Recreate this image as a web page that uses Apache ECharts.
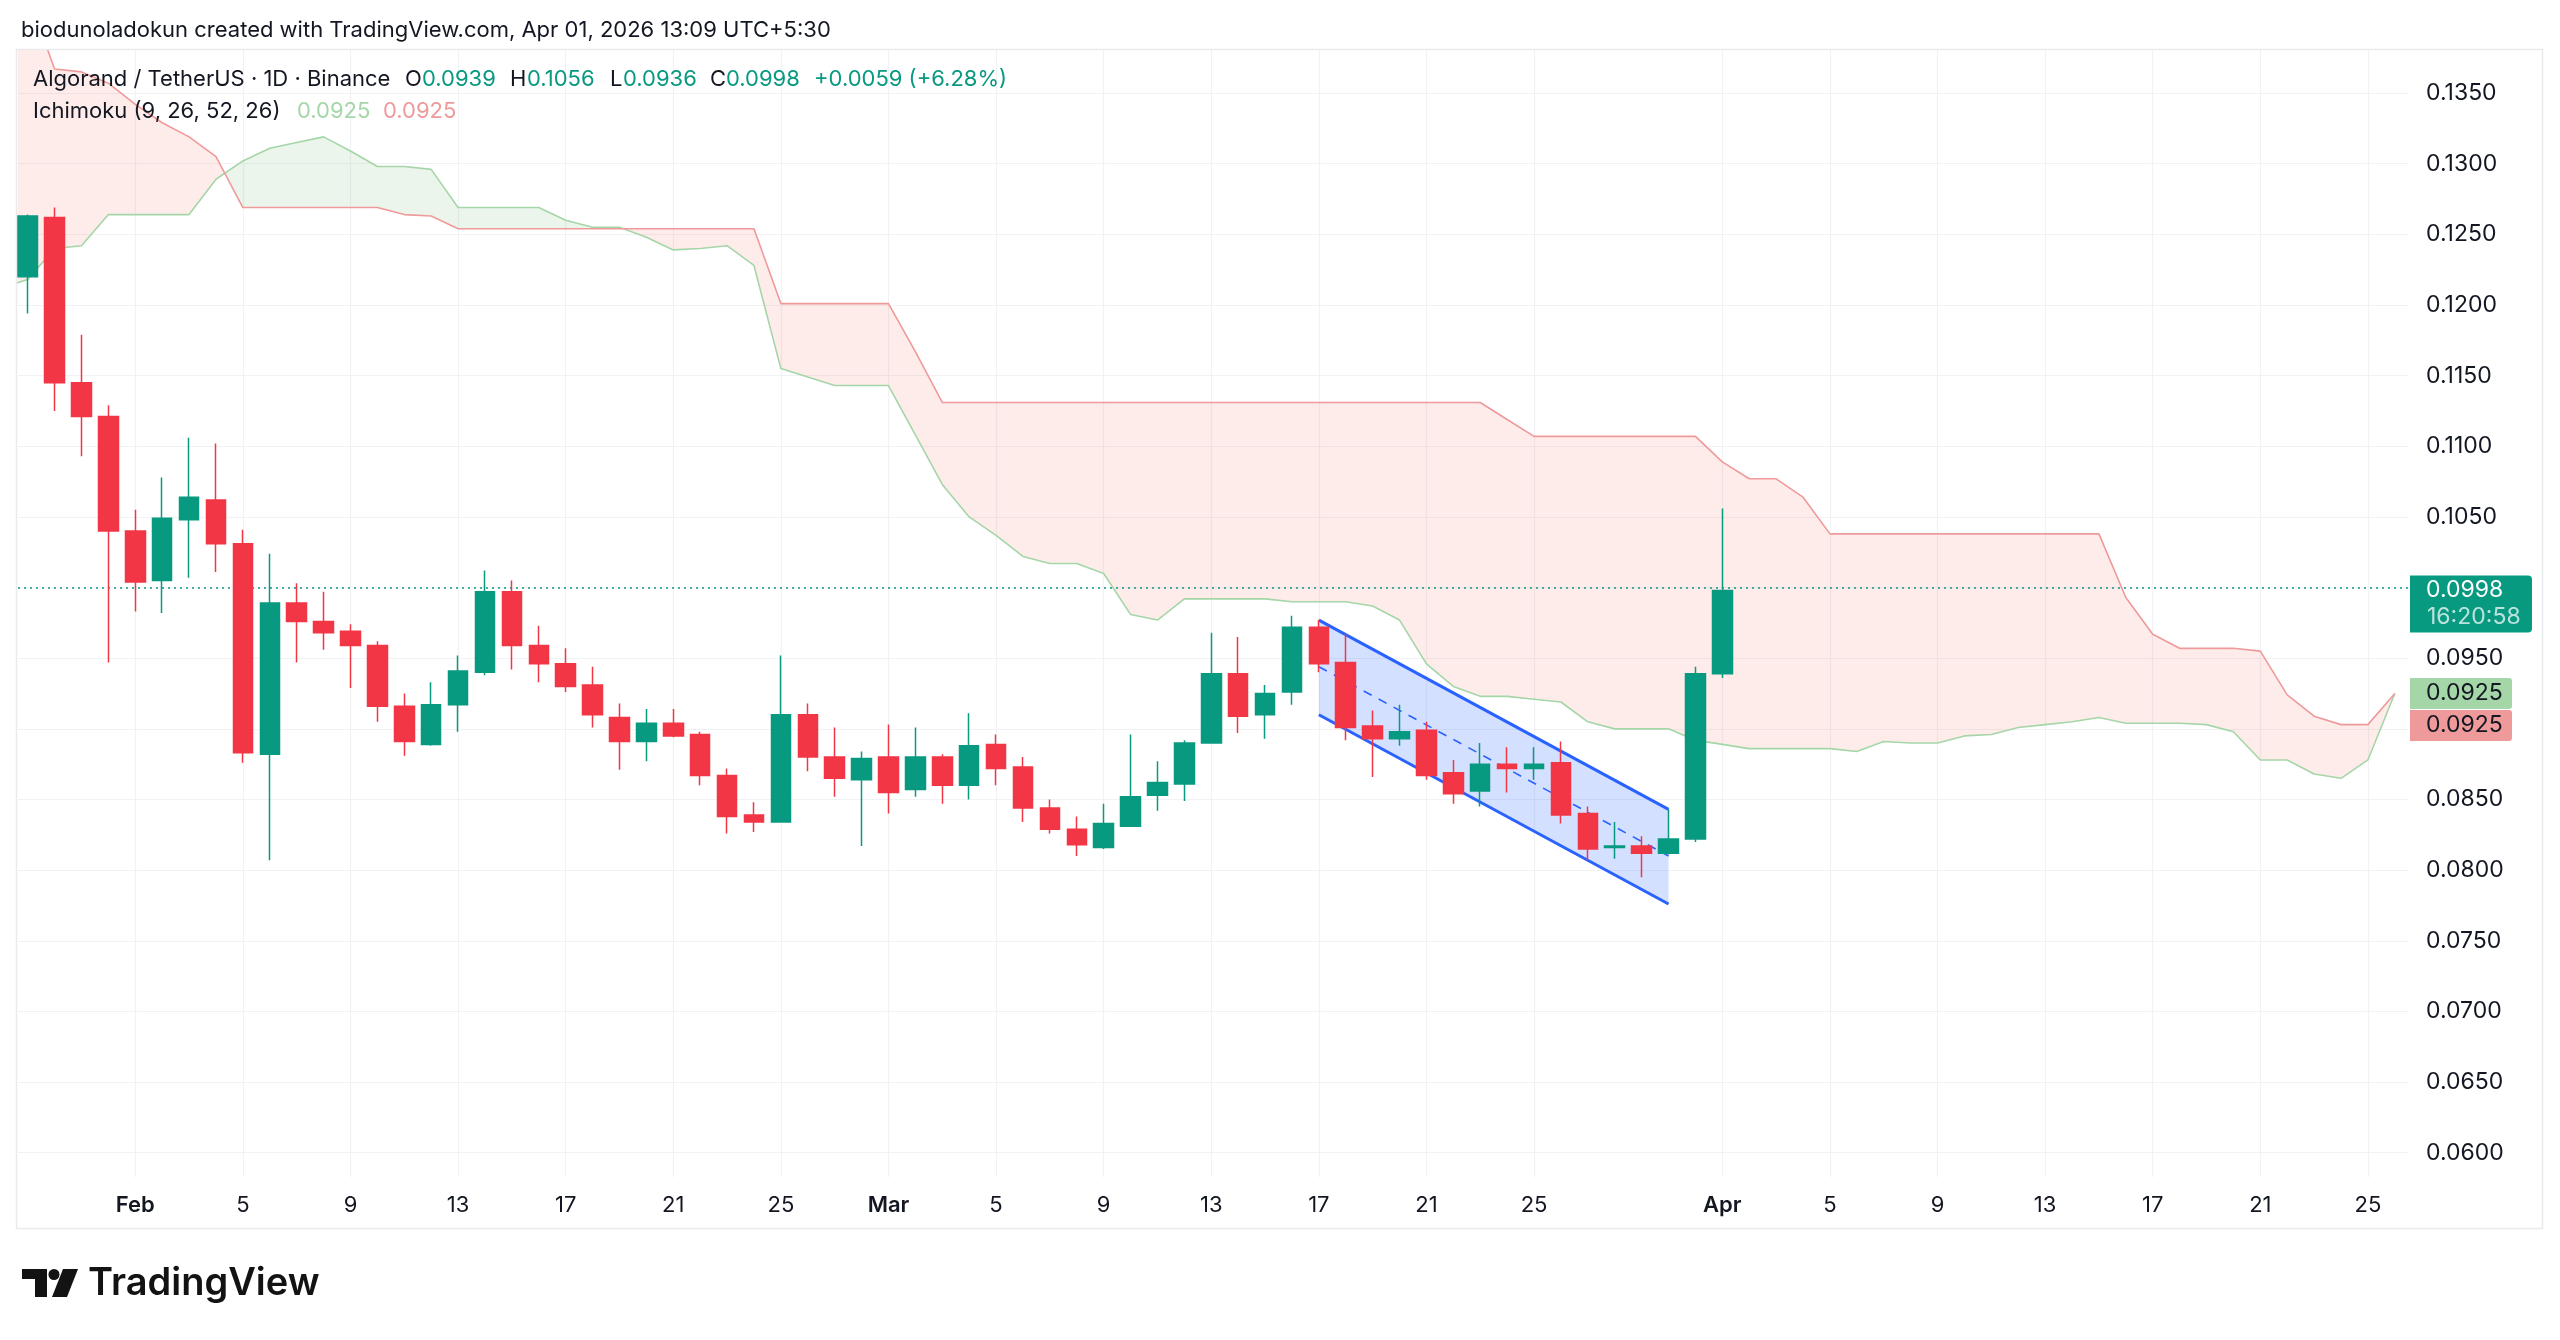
<!DOCTYPE html>
<html>
<head>
<meta charset="utf-8">
<title>ALGOUSDT 1D</title>
<script src="https://cdn.jsdelivr.net/npm/echarts@6/dist/echarts.min.js"></script>
<style>
  html, body { margin: 0; padding: 0; background: #fff; }
  #main { width: 2560px; height: 1340px; }
</style>
</head>
<body>
<div id="main"></div>
<script>
// daily candles, index 0 = Jan 28
const dates = [
  'Jan 28', 'Jan 29', 'Jan 30', 'Jan 31',
  'Feb 1', 'Feb 2', 'Feb 3', 'Feb 4', 'Feb 5', 'Feb 6', 'Feb 7', 'Feb 8', 'Feb 9', 'Feb 10',
  'Feb 11', 'Feb 12', 'Feb 13', 'Feb 14', 'Feb 15', 'Feb 16', 'Feb 17', 'Feb 18', 'Feb 19', 'Feb 20',
  'Feb 21', 'Feb 22', 'Feb 23', 'Feb 24', 'Feb 25', 'Feb 26', 'Feb 27', 'Feb 28',
  'Mar 1', 'Mar 2', 'Mar 3', 'Mar 4', 'Mar 5', 'Mar 6', 'Mar 7', 'Mar 8', 'Mar 9', 'Mar 10',
  'Mar 11', 'Mar 12', 'Mar 13', 'Mar 14', 'Mar 15', 'Mar 16', 'Mar 17', 'Mar 18', 'Mar 19', 'Mar 20',
  'Mar 21', 'Mar 22', 'Mar 23', 'Mar 24', 'Mar 25', 'Mar 26', 'Mar 27', 'Mar 28', 'Mar 29', 'Mar 30',
  'Mar 31', 'Apr 1'
];
const open = [
  0.1220, 0.1262, 0.1145, 0.1121, 0.1040, 0.1005, 0.1048, 0.1062, 0.1031, 0.0882,
  0.0989, 0.0976, 0.0969, 0.0959, 0.0916, 0.0889, 0.0917, 0.0940, 0.0997, 0.0959,
  0.0946, 0.0931, 0.0908, 0.0891, 0.0904, 0.0896, 0.0867, 0.0839, 0.0834, 0.0910,
  0.0880, 0.0864, 0.0880, 0.0857, 0.0880, 0.0860, 0.0889, 0.0873, 0.0844, 0.0829,
  0.0816, 0.0831, 0.0853, 0.0861, 0.0890, 0.0939, 0.0910, 0.0926, 0.0972, 0.0947,
  0.0902, 0.0893, 0.0899, 0.0869, 0.0856, 0.0875, 0.0872, 0.0876, 0.0840, 0.0816,
  0.0817, 0.0812, 0.0822, 0.0939
];
const close = [
  0.1263, 0.1145, 0.1121, 0.1040, 0.1004, 0.1049, 0.1064, 0.1031, 0.0883, 0.0989,
  0.0976, 0.0968, 0.0959, 0.0916, 0.0891, 0.0917, 0.0941, 0.0997, 0.0959, 0.0946,
  0.0930, 0.0910, 0.0891, 0.0904, 0.0895, 0.0867, 0.0838, 0.0834, 0.0910, 0.0880,
  0.0865, 0.0879, 0.0855, 0.0880, 0.0860, 0.0888, 0.0872, 0.0844, 0.0829, 0.0818,
  0.0833, 0.0852, 0.0862, 0.0890, 0.0939, 0.0909, 0.0925, 0.0972, 0.0946, 0.0901,
  0.0893, 0.0898, 0.0867, 0.0854, 0.0875, 0.0872, 0.0875, 0.0839, 0.0815, 0.0817,
  0.0812, 0.0822, 0.0939, 0.0998
];
const low = [
  0.1194, 0.1125, 0.1093, 0.0947, 0.0983, 0.0982, 0.1007, 0.1011, 0.0876, 0.0807,
  0.0947, 0.0956, 0.0929, 0.0905, 0.0881, 0.0888, 0.0898, 0.0938, 0.0942, 0.0933,
  0.0926, 0.0901, 0.0871, 0.0877, 0.0894, 0.0860, 0.0826, 0.0827, 0.0834, 0.0870,
  0.0852, 0.0817, 0.0840, 0.0852, 0.0847, 0.0850, 0.0860, 0.0834, 0.0826, 0.0810,
  0.0815, 0.0831, 0.0842, 0.0849, 0.0890, 0.0897, 0.0893, 0.0917, 0.0940, 0.0892,
  0.0866, 0.0888, 0.0864, 0.0847, 0.0845, 0.0855, 0.0864, 0.0833, 0.0807, 0.0808,
  0.0795, 0.0811, 0.0820, 0.0936
];
const high = [
  0.1264, 0.1269, 0.1179, 0.1129, 0.1055, 0.1078, 0.1106, 0.1102, 0.1041, 0.1024,
  0.1003, 0.0997, 0.0974, 0.0962, 0.0925, 0.0933, 0.0952, 0.1012, 0.1005, 0.0973,
  0.0957, 0.0944, 0.0918, 0.0914, 0.0914, 0.0898, 0.0872, 0.0848, 0.0952, 0.0918,
  0.0901, 0.0884, 0.0903, 0.0901, 0.0882, 0.0911, 0.0896, 0.0880, 0.0850, 0.0838,
  0.0847, 0.0896, 0.0877, 0.0892, 0.0968, 0.0965, 0.0931, 0.0980, 0.0977, 0.0967,
  0.0913, 0.0917, 0.0905, 0.0878, 0.0890, 0.0887, 0.0887, 0.0891, 0.0845, 0.0834,
  0.0824, 0.0843, 0.0944, 0.1056
];

// ichimoku leading spans (already shifted 26 bars ahead), first value = Jan 27
const SPAN_START = -1;
const spanA = [
  0.1212,
  0.1218, 0.1240, 0.1242, 0.1264, 0.1264, 0.1264, 0.1264, 0.1289, 0.1302, 0.1311,
  0.1315, 0.1319, 0.1309, 0.1298, 0.1298, 0.1296, 0.1269, 0.1269, 0.1269, 0.1269,
  0.1260, 0.1255, 0.1255, 0.1248, 0.1239, 0.1240, 0.1242, 0.1228, 0.1155, 0.1149,
  0.1143, 0.1143, 0.1143, 0.1108, 0.1073, 0.1050, 0.1037, 0.1022, 0.1017, 0.1017,
  0.1010, 0.0981, 0.0977, 0.0992, 0.0992, 0.0992, 0.0992, 0.0990, 0.0990, 0.0990,
  0.0987, 0.0977, 0.0946, 0.0930, 0.0923, 0.0923, 0.0921, 0.0919, 0.0905, 0.0900,
  0.0900, 0.0900, 0.0892, 0.0889, 0.0886, 0.0886, 0.0886, 0.0886, 0.0884, 0.0891,
  0.0890, 0.0890, 0.0895, 0.0896, 0.0901, 0.0903, 0.0905, 0.0908, 0.0904, 0.0904,
  0.0904, 0.0903, 0.0898, 0.0878, 0.0878, 0.0868, 0.0865, 0.0878, 0.0925
];
const spanB = [
  0.1460,
  0.1420, 0.1367, 0.1365, 0.1357, 0.1342, 0.1329, 0.1319, 0.1305, 0.1269, 0.1269,
  0.1269, 0.1269, 0.1269, 0.1269, 0.1264, 0.1263, 0.1254, 0.1254, 0.1254, 0.1254,
  0.1254, 0.1254, 0.1254, 0.1254, 0.1254, 0.1254, 0.1254, 0.1254, 0.1201, 0.1201,
  0.1201, 0.1201, 0.1201, 0.1167, 0.1131, 0.1131, 0.1131, 0.1131, 0.1131, 0.1131,
  0.1131, 0.1131, 0.1131, 0.1131, 0.1131, 0.1131, 0.1131, 0.1131, 0.1131, 0.1131,
  0.1131, 0.1131, 0.1131, 0.1131, 0.1131, 0.1119, 0.1107, 0.1107, 0.1107, 0.1107,
  0.1107, 0.1107, 0.1107, 0.1089, 0.1077, 0.1077, 0.1064, 0.1038, 0.1038, 0.1038,
  0.1038, 0.1038, 0.1038, 0.1038, 0.1038, 0.1038, 0.1038, 0.1038, 0.0993, 0.0967,
  0.0957, 0.0957, 0.0957, 0.0955, 0.0924, 0.0909, 0.0903, 0.0903, 0.0925
];

// descending parallel channel drawing (bar index -> price)
const channelX = [48, 61];
const channelTop = [0.0977, 0.0843];
const channelMid = [0.0944, 0.0810];
const channelBottom = [0.0910, 0.0776];

// axis ticks
const xTickIdx = [4, 8, 12, 16, 20, 24, 28, 32, 36, 40, 44, 48, 52, 56, 63, 67, 71, 75, 79, 83, 87];
const xTickLabels = ['Feb', '5', '9', '13', '17', '21', '25', 'Mar', '5', '9', '13', '17', '21', '25',
  'Apr', '5', '9', '13', '17', '21', '25'];
const yGrid = [0.060, 0.065, 0.070, 0.075, 0.080, 0.085, 0.090, 0.095, 0.100,
  0.105, 0.110, 0.115, 0.120, 0.125, 0.130, 0.135];
const yLabels = [0.060, 0.065, 0.070, 0.075, 0.080, 0.085, 0.095,
  0.105, 0.110, 0.115, 0.120, 0.125, 0.130, 0.135];
const countdown = '16:20:58';

// visible window of the chart
const X_MIN = -0.36, X_MAX = 88.49;
const Y_MIN = 0.05828, Y_MAX = 0.13805;

const UP = '#089981';
const DOWN = '#f23645';
const SPAN_A = '#a5d6a7';
const SPAN_B = '#ef9a9a';
const TEXT = '#131722';
const FONT = 'Inter, Roboto, sans-serif';

const candles = open.map((o, i) => [i, o, close[i], low[i], high[i]]);
const last = open.length - 1;

// split the cloud into runs where one span stays above the other
const cloudRuns = [];
(function () {
  const x = i => i + SPAN_START;
  let cur = { up: spanA[0] >= spanB[0], a: [[x(0), spanA[0]]], b: [[x(0), spanB[0]]] };
  for (let i = 1; i < spanA.length; i++) {
    const d0 = spanA[i - 1] - spanB[i - 1];
    const d1 = spanA[i] - spanB[i];
    if (d0 * d1 < 0) {
      const t = d0 / (d0 - d1);
      const c = [x(i - 1) + t, spanA[i - 1] + (spanA[i] - spanA[i - 1]) * t];
      cur.a.push(c);
      cur.b.push(c);
      cloudRuns.push(cur);
      cur = { up: d1 > 0, a: [c], b: [c] };
    }
    cur.a.push([x(i), spanA[i]]);
    cur.b.push([x(i), spanB[i]]);
  }
  cloudRuns.push(cur);
})();

// keep a pixel polygon inside the plot box (Sutherland-Hodgman)
function clipToBox(pts, x0, y0, x1, y1) {
  function cut(a, b, k, v) {
    const t = (v - a[k]) / (b[k] - a[k]);
    return [a[0] + (b[0] - a[0]) * t, a[1] + (b[1] - a[1]) * t];
  }
  const edges = [
    [p => p[0] >= x0, (a, b) => cut(a, b, 0, x0)],
    [p => p[0] <= x1, (a, b) => cut(a, b, 0, x1)],
    [p => p[1] >= y0, (a, b) => cut(a, b, 1, y0)],
    [p => p[1] <= y1, (a, b) => cut(a, b, 1, y1)]
  ];
  let out = pts;
  edges.forEach(function (edge) {
    const inside = edge[0], isect = edge[1];
    const src = out;
    out = [];
    for (let i = 0; i < src.length; i++) {
      const cur = src[i];
      const prev = src[(i + src.length - 1) % src.length];
      if (inside(cur)) {
        if (!inside(prev)) out.push(isect(prev, cur));
        out.push(cur);
      } else if (inside(prev)) {
        out.push(isect(prev, cur));
      }
    }
  });
  return out;
}

function renderCloud(params, api) {
  const tl = api.coord([X_MIN, Y_MAX]);
  const br = api.coord([X_MAX, Y_MIN]);
  return {
    type: 'group',
    children: cloudRuns.map(run => ({
      type: 'polygon',
      shape: {
        points: clipToBox(run.a.concat(run.b.slice().reverse()).map(p => api.coord(p)),
          tl[0], tl[1], br[0], br[1])
      },
      style: { fill: run.up ? 'rgba(67,160,71,0.1)' : 'rgba(244,67,54,0.1)' }
    }))
  };
}

function renderChannel(params, api) {
  const pts = [
    [channelX[0], channelTop[0]], [channelX[1], channelTop[1]],
    [channelX[1], channelBottom[1]], [channelX[0], channelBottom[0]]
  ].map(p => api.coord(p));
  return { type: 'polygon', shape: { points: pts }, style: { fill: 'rgba(41,98,255,0.2)' } };
}

const chart = echarts.init(document.getElementById('main'));

const option = {
  animation: false,
  backgroundColor: '#ffffff',
  textStyle: { fontFamily: FONT },
  grid: { left: 18, top: 50, right: 152, bottom: 163, containLabel: false, outerBoundsMode: 'none' },
  xAxis: {
    type: 'value',
    min: X_MIN,
    max: X_MAX,
    axisLine: { show: false },
    axisTick: { show: false, customValues: xTickIdx },
    splitLine: { show: true, lineStyle: { color: '#f0f2f5', width: 1.2 } },
    axisLabel: {
      customValues: xTickIdx,
      margin: 17,
      fontSize: 22,
      color: TEXT,
      fontFamily: FONT,
      formatter: function (v) {
        const t = xTickLabels[xTickIdx.indexOf(Math.round(v))];
        return isNaN(Number(t)) ? '{m|' + t + '}' : t;
      },
      rich: { m: { fontSize: 22, fontWeight: 600, color: TEXT, fontFamily: FONT } }
    }
  },
  yAxis: {
    type: 'value',
    position: 'right',
    min: Y_MIN,
    max: Y_MAX,
    scale: true,
    axisLine: { show: false },
    axisTick: { show: false, customValues: yGrid },
    splitLine: { show: true, lineStyle: { color: '#f0f2f5', width: 1.2 } },
    axisLabel: {
      customValues: yLabels,
      margin: 18,
      fontSize: 23,
      color: TEXT,
      fontFamily: FONT,
      formatter: v => v.toFixed(4)
    }
  },
  series: [
    {
      type: 'custom',
      name: 'Kumo',
      renderItem: renderCloud,
      data: [[0, spanA[1]]],
      encode: { x: 0, y: 1 },
      silent: true,
      z: 1
    },
    {
      type: 'line',
      name: 'Leading Span A',
      data: spanA.map((v, i) => [i + SPAN_START, v]),
      symbol: 'none',
      clip: true,
      lineStyle: { color: SPAN_A, width: 1.6 },
      silent: true,
      z: 2
    },
    {
      type: 'line',
      name: 'Leading Span B',
      data: spanB.map((v, i) => [i + SPAN_START, v]),
      symbol: 'none',
      clip: true,
      lineStyle: { color: SPAN_B, width: 1.6 },
      silent: true,
      z: 2
    },
    {
      type: 'custom',
      name: 'Channel',
      renderItem: renderChannel,
      data: [[channelX[0], channelTop[0]]],
      encode: { x: 0, y: 1 },
      silent: true,
      z: 3
    },
    {
      type: 'line',
      data: channelX.map((x, i) => [x, channelTop[i]]),
      symbol: 'none',
      lineStyle: { color: '#2962ff', width: 3 },
      silent: true,
      z: 4
    },
    {
      type: 'line',
      data: channelX.map((x, i) => [x, channelBottom[i]]),
      symbol: 'none',
      lineStyle: { color: '#2962ff', width: 3 },
      silent: true,
      z: 4
    },
    {
      type: 'line',
      data: channelX.map((x, i) => [x, channelMid[i]]),
      symbol: 'none',
      lineStyle: { color: '#2962ff', width: 1.6, type: [9, 8] },
      silent: true,
      z: 4
    },
    {
      type: 'candlestick',
      name: 'ALGOUSDT',
      data: candles,
      barWidth: 20,
      itemStyle: {
        color: UP,
        color0: DOWN,
        borderColor: UP,
        borderColor0: DOWN,
        borderWidth: 1.5
      },
      markLine: {
        silent: true,
        symbol: 'none',
        label: { show: false },
        lineStyle: { color: UP, type: [2, 4], width: 1.6 },
        data: [{ yAxis: close[last] }]
      },
      z: 5
    }
  ]
};

chart.setOption(option);

// labels in the header and on the price scale
const yLast = chart.convertToPixel({ yAxisIndex: 0 }, close[last]);
const cloudNow = spanA[spanA.length - 1];
const yCloud = chart.convertToPixel({ yAxisIndex: 0 }, cloudNow);
const chg = close[last] - close[last - 1];
const pct = chg / close[last - 1] * 100;

function txt(x, y, s, fill, size, weight) {
  return {
    type: 'text', x: x, y: y, z: 100,
    style: {
      text: s, fill: fill, fontSize: size || 22, fontWeight: weight || 400,
      fontFamily: FONT, verticalAlign: 'middle'
    }
  };
}

chart.setOption({
  graphic: [
    {
      type: 'rect', z: 50, silent: true,
      shape: { x: 16.5, y: 49.5, width: 2526, height: 1179 },
      style: { fill: 'none', stroke: '#e9eaec', lineWidth: 1.5 }
    },
    txt(21, 30, 'biodunoladokun created with TradingView.com, Apr 01, 2026 13:09 UTC+5:30', TEXT),
    txt(33, 79, 'Algorand / TetherUS · 1D · Binance', TEXT),
    txt(405, 79, 'O', TEXT), txt(422, 79, open[last].toFixed(4), UP),
    txt(510, 79, 'H', TEXT), txt(527, 79, high[last].toFixed(4), UP),
    txt(610, 79, 'L', TEXT), txt(623, 79, low[last].toFixed(4), UP),
    txt(710, 79, 'C', TEXT), txt(726, 79, close[last].toFixed(4), UP),
    txt(814, 79, '+' + chg.toFixed(4) + ' (+' + pct.toFixed(2) + '%)', UP),
    txt(33, 111, 'Ichimoku (9, 26, 52, 26)', TEXT),
    txt(297, 111, spanA[spanA.length - 1].toFixed(4), SPAN_A),
    txt(383, 111, spanB[spanB.length - 1].toFixed(4), SPAN_B),
    // last price tag
    {
      type: 'rect', z: 90, shape: { x: 2410, y: yLast - 15, width: 122, height: 57, r: [0, 4, 4, 0] },
      style: { fill: UP }
    },
    txt(2426, yLast, close[last].toFixed(4), '#ffffff', 23),
    txt(2427, yLast + 27, countdown, 'rgba(255,255,255,0.72)', 23),
    // kumo tags
    {
      type: 'rect', z: 90, shape: { x: 2410, y: yCloud - 15.5, width: 102, height: 31, r: [0, 3, 3, 0] },
      style: { fill: SPAN_A }
    },
    txt(2426, yCloud, cloudNow.toFixed(4), TEXT, 23),
    {
      type: 'rect', z: 90, shape: { x: 2410, y: yCloud + 16.5, width: 102, height: 31, r: [0, 3, 3, 0] },
      style: { fill: SPAN_B }
    },
    txt(2426, yCloud + 32, spanB[spanB.length - 1].toFixed(4), TEXT, 23),
    // TradingView logo
    {
      type: 'group', z: 100,
      children: [
        { type: 'rect', shape: { x: 22, y: 1269, width: 25, height: 10 }, style: { fill: '#131313' } },
        { type: 'rect', shape: { x: 35, y: 1269, width: 12, height: 28 }, style: { fill: '#131313' } },
        { type: 'circle', shape: { cx: 54, cy: 1274.5, r: 5.5 }, style: { fill: '#131313' } },
        { type: 'polygon', shape: { points: [[63, 1269], [78, 1269], [67, 1297], [52, 1297]] }, style: { fill: '#131313' } }
      ]
    },
    txt(88, 1284, 'TradingView', '#131313', 38, 600)
  ]
});
</script>
</body>
</html>
